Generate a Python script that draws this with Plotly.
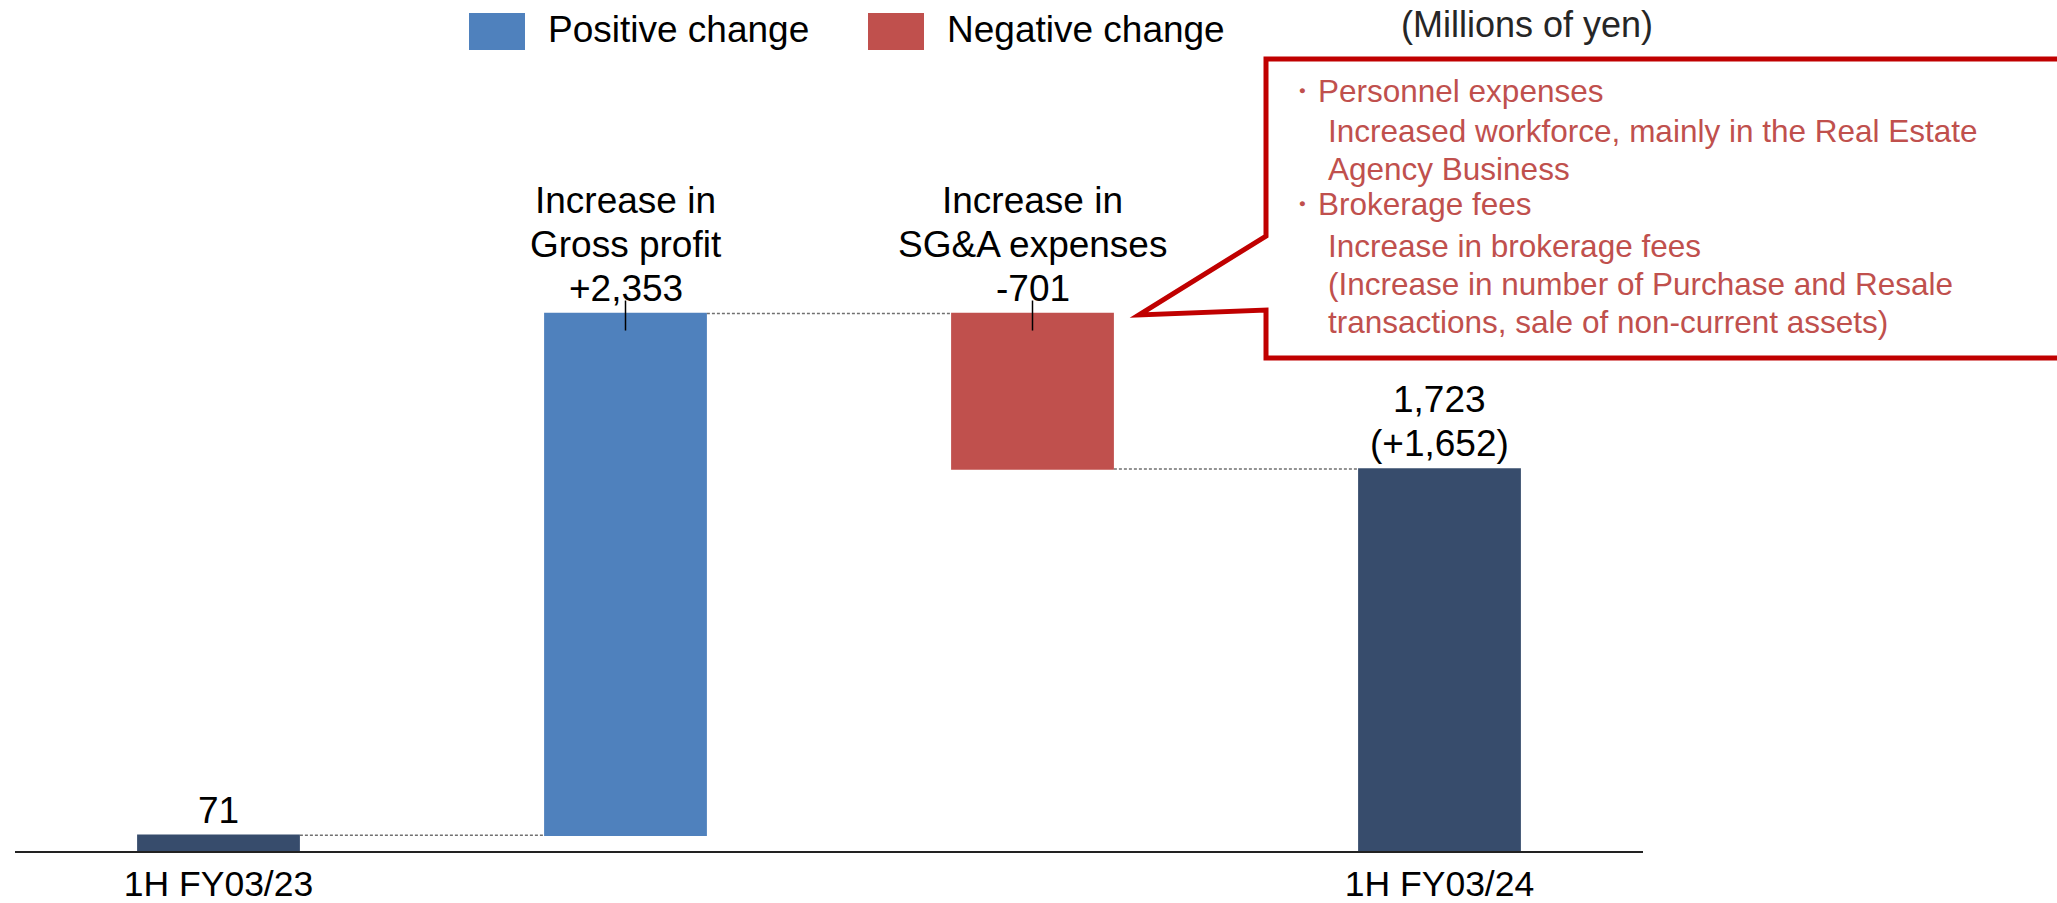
import plotly.graph_objects as go

# ---------------- data ----------------
categories = ["1H FY03/23", "Gross profit", "SG&A expenses", "1H FY03/24"]
measures = ["absolute", "relative", "relative", "total"]
values = [71, 2353, -701, 0]
bar_labels = [["71"],
              ["Increase in", "Gross profit", "+2,353"],
              ["Increase in", "SG&A expenses", "-701"],
              ["1,723", "(+1,652)"]]
tick_labels = ["1H FY03/23", "1H FY03/24"]
legend_names = ["Positive change", "Negative change"]
unit_label = "(Millions of yen)"
callout_lines = [
    ("・Personnel expenses", 0),
    ("Increased workforce, mainly in the Real Estate", 1),
    ("Agency Business", 1),
    ("・Brokerage fees", 0),
    ("Increase in brokerage fees", 1),
    ("(Increase in number of Purchase and Resale", 1),
    ("transactions, sale of non-current assets)", 1),
]

# ---------------- styles ----------------
BLUE = "#4F81BD"
RED = "#C0504D"
NAVY = "#374C6C"
CALLOUT_LINE = "#C00000"
CALLOUT_TEXT = "#C0504D"
FONT = "Liberation Sans, Arial, sans-serif"

W, H = 2057, 903
ML, MR, MT, MB = 15, 414, 0, 52
PW = W - ML - MR
PH = H - MT - MB
YMAX = 3838


def px(x):
    return (x - ML) / PW


def py(y):
    return (MT + PH - y) / PH


fig = go.Figure()
fig.add_trace(go.Waterfall(
    x=categories, y=values, measure=measures,
    increasing=dict(marker=dict(color=BLUE, line=dict(width=0))),
    decreasing=dict(marker=dict(color=RED, line=dict(width=0))),
    totals=dict(marker=dict(color=NAVY, line=dict(width=0))),
    connector=dict(mode="between", line=dict(color="#707070", width=1.4, dash="3px,2px")),
    textinfo="none", hoverinfo="skip", showlegend=False,
))

# compute bar tops (for label placement)
tops = []
level = 0
for m, v in zip(measures, values):
    if m == "absolute":
        start, level = 0, v
    elif m == "relative":
        start, level = level, level + v
    else:
        start = 0
    tops.append(max(start, level))

annotations = []
LINE_H = 44
for i, lines in enumerate(bar_labels):
    n = len(lines)
    for j, t in enumerate(lines):
        annotations.append(dict(
            x=categories[i], y=tops[i], xref="x", yref="y",
            yshift=25 + (n - 1 - j) * LINE_H,
            text=t, showarrow=False, xanchor="center", yanchor="middle",
            font=dict(family=FONT, size=37, color="#000000")))

shapes = []
# small tick marks on changes
for i in (1, 2):
    shapes.append(dict(type="line", xref="x", yref="y", x0=categories[i], x1=categories[i],
                       ysizemode="pixel", yanchor=tops[i], y0=-17, y1=13,
                       line=dict(color="#000000", width=1.5)))

# legend (manual)
leg_items = [(469, 525, BLUE, 546), (868, 924, RED, 945)]
for (x0, x1, col, tx), name in zip(leg_items, legend_names):
    shapes.append(dict(type="rect", xref="paper", yref="paper",
                       x0=px(x0), x1=px(x1), y0=py(50), y1=py(13),
                       fillcolor=col, line=dict(width=0)))
    annotations.append(dict(x=px(tx), y=py(30), xref="paper", yref="paper",
                            text=name, showarrow=False, xanchor="left", yanchor="middle",
                            font=dict(family=FONT, size=37, color="#000000")))

annotations.append(dict(x=px(1527), y=py(25), xref="paper", yref="paper",
                        text=unit_label, showarrow=False, xanchor="center", yanchor="middle",
                        font=dict(family=FONT, size=36, color="#262626")))

# callout polygon
pts = [(1266, 236), (1266, 59), (2080, 59), (2080, 358), (1266, 358), (1266, 310), (1139, 315)]
path = "M " + " L ".join(f"{px(x):.5f},{py(y):.5f}" for x, y in pts) + " Z"
shapes.append(dict(type="path", xref="paper", yref="paper", path=path,
                   fillcolor="rgba(255,255,255,0)", line=dict(color=CALLOUT_LINE, width=5)))

baselines = [102, 142, 180, 215, 257, 295, 333]
for (t, indent), b in zip(callout_lines, baselines):
    x0 = 1284 if indent == 0 else 1326
    annotations.append(dict(x=px(x0), y=py(b - 11), xref="paper", yref="paper",
                            text=t, showarrow=False, xanchor="left", yanchor="middle",
                            font=dict(family=FONT, size=31.5, color=CALLOUT_TEXT)))

fig.update_layout(
    width=W, height=H,
    margin=dict(l=ML, r=MR, t=MT, b=MB, pad=0, autoexpand=False),
    paper_bgcolor="white", plot_bgcolor="white",
    waterfallgap=0.6,
    xaxis=dict(type="category", tickvals=[categories[0], categories[3]], ticktext=tick_labels,
               showline=True, linecolor="#222222", linewidth=2, showgrid=False, zeroline=False,
               ticks="", tickfont=dict(family=FONT, size=35.5, color="#000000"),
               ticklabelstandoff=0, automargin=False),
    yaxis=dict(range=[0, YMAX], visible=False, showgrid=False, zeroline=False, automargin=False),
    shapes=shapes, annotations=annotations,
    showlegend=False,
)

fig.write_html("out.html", config={"displayModeBar": False},
               post_script="document.body.style.margin='0';")
